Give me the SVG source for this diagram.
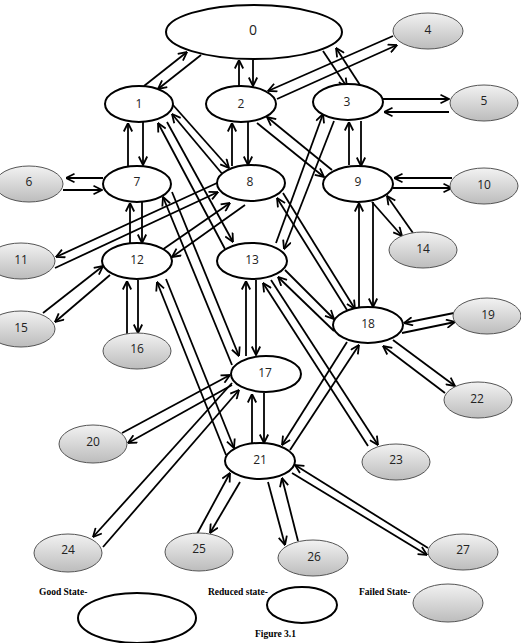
<svg xmlns="http://www.w3.org/2000/svg" width="521" height="643" viewBox="0 0 521 643">
<defs>
<linearGradient id="grey" x1="0" y1="0" x2="0" y2="1">
<stop offset="0" stop-color="#f2f2f2"/>
<stop offset="1" stop-color="#bcbcbc"/>
</linearGradient>
<marker id="arr" viewBox="0 0 10 10" refX="9.5" refY="5" markerWidth="10" markerHeight="10" markerUnits="userSpaceOnUse" orient="auto">
<path d="M1,0.8 L9.5,5 L1,9.2" fill="none" stroke="#000" stroke-width="1.8"/>
</marker>
<style>
.w{fill:#fff;stroke:#000;stroke-width:2}
.g{fill:url(#grey);stroke:#555;stroke-width:1}
.t{font-family:"Open Sans","Liberation Sans",sans-serif;font-size:12px;fill:#222;text-anchor:middle;dominant-baseline:central}
.lg{font-family:"Liberation Serif",serif;font-size:9.5px;font-weight:bold;fill:#000}
#edges line{stroke:#000;stroke-width:1.8;marker-end:url(#arr)}
</style>
</defs>
<rect width="521" height="643" fill="#fff"/>
<g id="edges">
<line x1="144" y1="86" x2="187" y2="52"/>
<line x1="201" y1="55" x2="158" y2="89"/>
<line x1="239" y1="86" x2="239" y2="60"/>
<line x1="253" y1="60" x2="253" y2="86"/>
<line x1="323" y1="51" x2="347" y2="87"/>
<line x1="360" y1="85" x2="336" y2="48"/>
<line x1="393" y1="36" x2="268" y2="91"/>
<line x1="277" y1="99" x2="397" y2="45"/>
<line x1="383" y1="99" x2="449" y2="99"/>
<line x1="449" y1="112" x2="384" y2="112"/>
<line x1="349" y1="165" x2="349" y2="122"/>
<line x1="361" y1="121" x2="361" y2="166"/>
<line x1="452" y1="178" x2="394" y2="178"/>
<line x1="393" y1="188" x2="452" y2="188"/>
<line x1="103" y1="178" x2="66" y2="178"/>
<line x1="63" y1="190" x2="102" y2="190"/>
<line x1="128" y1="166" x2="128" y2="123"/>
<line x1="143" y1="122" x2="143" y2="165"/>
<line x1="232" y1="166" x2="232" y2="123"/>
<line x1="248" y1="122" x2="248" y2="165"/>
<line x1="173" y1="105" x2="229" y2="168"/>
<line x1="224" y1="176" x2="172" y2="114"/>
<line x1="225" y1="249" x2="158" y2="123"/>
<line x1="167" y1="122" x2="233" y2="242"/>
<line x1="257" y1="123" x2="324" y2="177"/>
<line x1="332" y1="170" x2="267" y2="117"/>
<line x1="276" y1="243" x2="323" y2="114"/>
<line x1="334" y1="121" x2="284" y2="249"/>
<line x1="359" y1="308" x2="359" y2="203"/>
<line x1="373" y1="202" x2="373" y2="307"/>
<line x1="372" y1="202" x2="402" y2="236"/>
<line x1="413" y1="233" x2="387" y2="196"/>
<line x1="130" y1="243" x2="130" y2="203"/>
<line x1="142" y1="202" x2="142" y2="243"/>
<line x1="55" y1="268" x2="218" y2="192"/>
<line x1="217" y1="183" x2="56" y2="257"/>
<line x1="162" y1="250" x2="230" y2="203"/>
<line x1="245" y1="205" x2="172" y2="257"/>
<line x1="283" y1="193" x2="355" y2="309"/>
<line x1="347" y1="310" x2="277" y2="198"/>
<line x1="285" y1="270" x2="334" y2="319"/>
<line x1="334" y1="331" x2="278" y2="277"/>
<line x1="43" y1="313" x2="103" y2="266"/>
<line x1="110" y1="275" x2="55" y2="322"/>
<line x1="127" y1="334" x2="127" y2="281"/>
<line x1="138" y1="280" x2="138" y2="333"/>
<line x1="232" y1="365" x2="163" y2="197"/>
<line x1="172" y1="192" x2="239" y2="356"/>
<line x1="226" y1="455" x2="157" y2="282"/>
<line x1="166" y1="279" x2="234" y2="448"/>
<line x1="246" y1="356" x2="246" y2="281"/>
<line x1="256" y1="280" x2="256" y2="355"/>
<line x1="252" y1="443" x2="252" y2="394"/>
<line x1="264" y1="393" x2="264" y2="443"/>
<line x1="122" y1="433" x2="230" y2="375"/>
<line x1="232" y1="385" x2="128" y2="443"/>
<line x1="232" y1="383" x2="93" y2="537"/>
<line x1="103" y1="547" x2="239" y2="390"/>
<line x1="454" y1="313" x2="404" y2="323"/>
<line x1="402" y1="333" x2="455" y2="322"/>
<line x1="393" y1="340" x2="455" y2="386"/>
<line x1="445" y1="393" x2="383" y2="346"/>
<line x1="347" y1="342" x2="282" y2="445"/>
<line x1="290" y1="450" x2="359" y2="345"/>
<line x1="271" y1="280" x2="378" y2="445"/>
<line x1="368" y1="446" x2="263" y2="283"/>
<line x1="197" y1="534" x2="230" y2="473"/>
<line x1="240" y1="482" x2="210" y2="533"/>
<line x1="268" y1="482" x2="285" y2="545"/>
<line x1="298" y1="541" x2="282" y2="478"/>
<line x1="428" y1="548" x2="295" y2="465"/>
<line x1="292" y1="473" x2="427" y2="555"/>
</g>
<g id="n0"><ellipse class="w" cx="254" cy="32" rx="88" ry="27"/><text class="t" x="253" y="29" style="font-size:14px">0</text></g>
<g id="n1"><ellipse class="w" cx="139" cy="104" rx="34" ry="18"/><text class="t" x="139" y="103">1</text></g>
<g id="n2"><ellipse class="w" cx="241" cy="104" rx="35" ry="18"/><text class="t" x="241" y="103">2</text></g>
<g id="n3"><ellipse class="w" cx="348" cy="102" rx="35" ry="18"/><text class="t" x="347" y="101">3</text></g>
<g id="n4"><ellipse class="g" cx="428" cy="31" rx="35" ry="18"/><text class="t" x="428" y="29">4</text></g>
<g id="n5"><ellipse class="g" cx="484" cy="103" rx="34" ry="18"/><text class="t" x="484" y="100">5</text></g>
<g id="n6"><ellipse class="g" cx="29" cy="184" rx="34" ry="18"/><text class="t" x="29" y="181">6</text></g>
<g id="n7"><ellipse class="w" cx="137" cy="184" rx="34" ry="18"/><text class="t" x="137" y="181">7</text></g>
<g id="n8"><ellipse class="w" cx="251" cy="183" rx="34" ry="18"/><text class="t" x="250" y="181">8</text></g>
<g id="n9"><ellipse class="w" cx="358" cy="184" rx="35" ry="18"/><text class="t" x="358" y="181">9</text></g>
<g id="n10"><ellipse class="g" cx="484" cy="186" rx="34" ry="18"/><text class="t" x="484" y="184">10</text></g>
<g id="n11"><ellipse class="g" cx="21" cy="261" rx="34" ry="18"/><text class="t" x="21" y="259">11</text></g>
<g id="n12"><ellipse class="w" cx="137" cy="261" rx="35" ry="18"/><text class="t" x="137" y="259">12</text></g>
<g id="n13"><ellipse class="w" cx="252" cy="261" rx="35" ry="18"/><text class="t" x="252" y="259">13</text></g>
<g id="n14"><ellipse class="g" cx="423" cy="250" rx="34" ry="18"/><text class="t" x="423" y="248">14</text></g>
<g id="n15"><ellipse class="g" cx="21" cy="329" rx="34" ry="18"/><text class="t" x="21" y="327">15</text></g>
<g id="n16"><ellipse class="g" cx="137" cy="351" rx="34" ry="18"/><text class="t" x="137" y="348">16</text></g>
<g id="n17"><ellipse class="w" cx="266" cy="374" rx="35" ry="18"/><text class="t" x="265" y="372">17</text></g>
<g id="n18"><ellipse class="w" cx="368" cy="325" rx="35" ry="18"/><text class="t" x="368" y="323">18</text></g>
<g id="n19"><ellipse class="g" cx="487" cy="316" rx="34" ry="18"/><text class="t" x="488" y="314">19</text></g>
<g id="n20"><ellipse class="g" cx="93" cy="444" rx="34" ry="19"/><text class="t" x="93" y="441">20</text></g>
<g id="n21"><ellipse class="w" cx="260" cy="461" rx="35" ry="18"/><text class="t" x="260" y="459">21</text></g>
<g id="n22"><ellipse class="g" cx="478" cy="400" rx="34" ry="18"/><text class="t" x="477" y="398">22</text></g>
<g id="n23"><ellipse class="g" cx="396" cy="462" rx="34" ry="18"/><text class="t" x="396" y="459">23</text></g>
<g id="n24"><ellipse class="g" cx="68" cy="553" rx="34" ry="19"/><text class="t" x="68" y="549">24</text></g>
<g id="n25"><ellipse class="g" cx="199" cy="552" rx="34" ry="19"/><text class="t" x="199" y="548">25</text></g>
<g id="n26"><ellipse class="g" cx="313" cy="558" rx="35" ry="18"/><text class="t" x="314" y="556">26</text></g>
<g id="n27"><ellipse class="g" cx="463" cy="552" rx="35" ry="18"/><text class="t" x="463" y="549">27</text></g>
<g id="legend">
<text class="lg" x="39" y="595">Good State-</text>
<ellipse class="w" cx="137" cy="618" rx="59" ry="25"/>
<text class="lg" x="208" y="595">Reduced state-</text>
<ellipse class="w" cx="302" cy="605" rx="35" ry="18"/>
<text class="lg" x="359" y="595">Failed State-</text>
<ellipse class="g" cx="448" cy="603" rx="35" ry="19"/>
<text class="lg" x="255" y="637">Figure 3.1</text>
</g>
</svg>
